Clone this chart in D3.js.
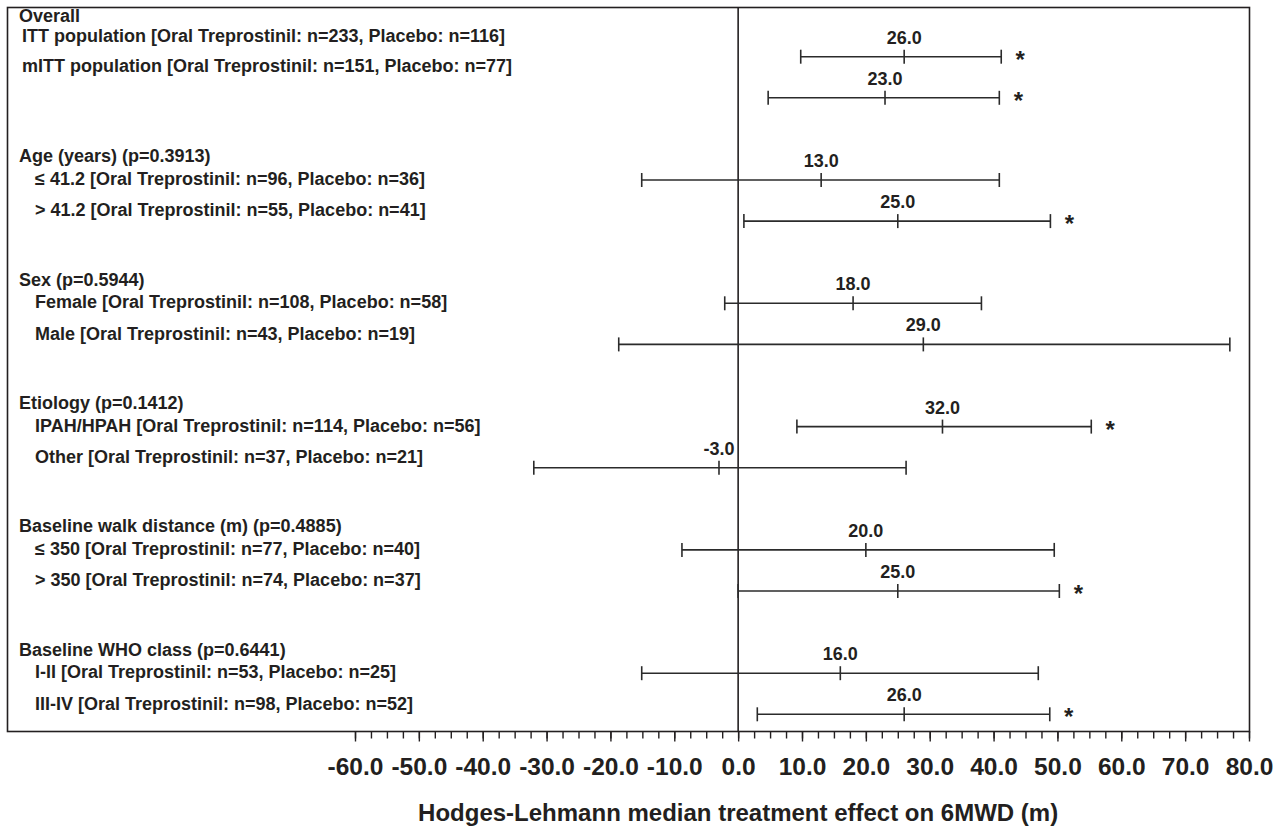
<!DOCTYPE html>
<meta charset="utf-8">
<style>
body { margin: 0; background: #fff; }
text { font-family: "Liberation Sans", Arial, Helvetica, sans-serif; font-weight: bold; fill: #231f20; }
.ci { stroke: #2b2b2b; stroke-width: 1.6px; fill: none; }
.frame { stroke: #231f20; stroke-width: 1.6px; fill: none; }
.axis path, .axis line { stroke: #231f20; stroke-width: 1.4px; }
</style>
<svg width="1286" height="826"></svg>
<script src="https://d3js.org/d3.v7.min.js"></script>
<script>
// subgroup headings
var groups = [
  "Overall",
  "Age (years) (p=0.3913)",
  "Sex (p=0.5944)",
  "Etiology (p=0.1412)",
  "Baseline walk distance (m) (p=0.4885)",
  "Baseline WHO class (p=0.6441)"
];

var rowLabels = [
  "ITT population [Oral Treprostinil: n=233, Placebo: n=116]",
  "mITT population [Oral Treprostinil: n=151, Placebo: n=77]",
  "\u2264 41.2 [Oral Treprostinil: n=96, Placebo: n=36]",
  "> 41.2 [Oral Treprostinil: n=55, Placebo: n=41]",
  "Female [Oral Treprostinil: n=108, Placebo: n=58]",
  "Male [Oral Treprostinil: n=43, Placebo: n=19]",
  "IPAH/HPAH [Oral Treprostinil: n=114, Placebo: n=56]",
  "Other [Oral Treprostinil: n=37, Placebo: n=21]",
  "\u2264 350 [Oral Treprostinil: n=77, Placebo: n=40]",
  "> 350 [Oral Treprostinil: n=74, Placebo: n=37]",
  "I-II [Oral Treprostinil: n=53, Placebo: n=25]",
  "III-IV [Oral Treprostinil: n=98, Placebo: n=52]"
];
var rowGroup = [0, 0, 1, 1, 2, 2, 3, 3, 4, 4, 5, 5];

// Hodges-Lehmann estimate and CI bounds (m)
var medians = [26, 23, 13, 25, 18, 29, 32, -3, 20, 25, 16, 26];
var lower   = [9.8, 4.7, -15.1, 0.9, -2.1, -18.7, 9.2, -32.0, -8.8, 0.0, -15.1, 3.0];
var upper   = [41.2, 40.9, 40.9, 48.9, 38.1, 77.0, 55.3, 26.3, 49.5, 50.3, 47.0, 48.8];
var significant = [true, true, false, true, false, false, true, false, false, true, false, true];

var majorTicks = d3.range(-60, 81, 10);
var minorTicks = d3.range(-60, 80.1, 2.5);

var svg = d3.select("svg");

var x = d3.scaleLinear().domain([-60, 80]).range([355, 1249]);
// three slots per group: heading + two rows
var slot = d3.scaleLinear().domain([1, 17]).range([56.7, 714.3]);

var box = {left: 7.5, top: 7.5, right: 1249.5, bottom: 731.5};

function rowSlot(i) { return rowGroup[i] * 3 + 1 + (i % 2); }
// left-hand labels sit a little apart from the bars
var textOffsets = [-24, -1.5, 30];
var overallOffsets = [-41, -21.5, 8.5];
function textY(g, k) {
  return slot(g * 3 + 1) + (g === 0 ? overallOffsets[k] : textOffsets[k]);
}

svg.append("rect")
    .attr("class", "frame")
    .attr("x", box.left)
    .attr("y", box.top)
    .attr("width", box.right - box.left)
    .attr("height", box.bottom - box.top);

svg.append("line")
    .attr("class", "frame")
    .attr("x1", x(0)).attr("x2", x(0))
    .attr("y1", box.top).attr("y2", box.bottom);

// headings and row labels
svg.selectAll(".group")
  .data(groups)
  .enter().append("text")
    .attr("class", "group")
    .attr("x", 19)
    .attr("y", function(d, g) { return textY(g, 0); })
    .attr("dy", "0.36em")
    .style("font-size", "18px")
    .text(function(d) { return d; });

svg.selectAll(".row")
  .data(rowLabels)
  .enter().append("text")
    .attr("class", "row")
    .attr("x", function(d, i) { return rowGroup[i] === 0 ? 22 : 35; })
    .attr("y", function(d, i) { return textY(rowGroup[i], 1 + (i % 2)); })
    .attr("dy", "0.36em")
    .style("font-size", "18px")
    .text(function(d) { return d; });

// CI bars
var cap = 7;
var row = svg.selectAll(".est")
  .data(medians.map(function(m, i) { return i; }))
  .enter().append("g")
    .attr("class", "est")
    .attr("transform", function(i) { return "translate(0," + slot(rowSlot(i)) + ")"; });

row.append("line")
    .attr("class", "ci")
    .attr("x1", function(i) { return x(lower[i]); })
    .attr("x2", function(i) { return x(upper[i]); });

[lower, medians, upper].forEach(function(arr) {
  row.append("line")
      .attr("class", "ci")
      .attr("x1", function(i) { return x(arr[i]); })
      .attr("x2", function(i) { return x(arr[i]); })
      .attr("y1", -cap).attr("y2", cap);
});

row.append("text")
    .attr("x", function(i) { return x(medians[i]); })
    .attr("y", -19.5)
    .attr("dy", "0.36em")
    .attr("text-anchor", "middle")
    .style("font-size", "18px")
    .text(function(i) { return medians[i].toFixed(1); });

row.filter(function(i) { return significant[i]; })
  .append("text")
    .attr("x", function(i) { return x(upper[i]) + 19; })
    .attr("y", 11)
    .attr("text-anchor", "middle")
    .style("font-size", "24px")
    .text("*");

// x axis: minor ticks, then labelled major ticks
svg.append("g")
    .attr("class", "axis")
    .attr("transform", "translate(0," + box.bottom + ")")
    .call(d3.axisBottom(x).tickValues(minorTicks).tickSize(7).tickSizeOuter(0).tickFormat(""))
    .call(function(g) { g.select(".domain").remove(); });

svg.append("g")
    .attr("class", "axis")
    .attr("transform", "translate(0," + box.bottom + ")")
    .call(d3.axisBottom(x).tickValues(majorTicks).tickSize(10).tickSizeOuter(0)
      .tickFormat(function(d) { return d.toFixed(1); }))
    .call(function(g) { g.select(".domain").remove(); })
    .call(function(g) {
      g.selectAll("text")
        .attr("y", 35)
        .attr("dy", "0.36em")
        .attr("fill", null)
        .style("font-size", "24.5px")
        .style("font-family", null);
    });

svg.append("text")
    .attr("x", x(0))
    .attr("y", 812)
    .attr("dy", "0.36em")
    .attr("text-anchor", "middle")
    .style("font-size", "24px")
    .text("Hodges-Lehmann median treatment effect on 6MWD (m)");
</script>
